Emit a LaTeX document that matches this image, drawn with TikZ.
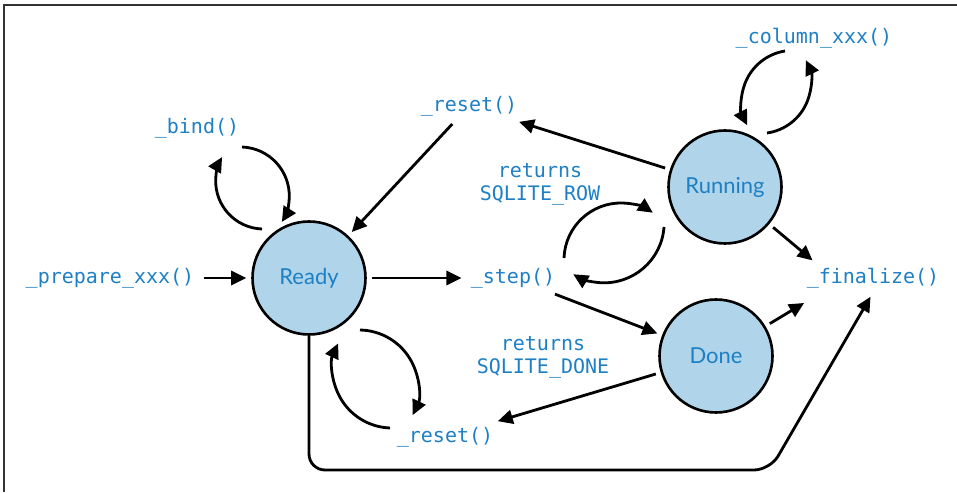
\documentclass[tikz,border=0pt]{standalone}
\usepackage{fontspec}
\setmainfont{Lato}
\setmonofont{DejaVu Sans Mono}
\usetikzlibrary{shapes, arrows.meta, positioning, calc}
\definecolor{codeblue}{RGB}{30,128,196}
\definecolor{statefill}{RGB}{176,212,234}

\begin{document}
\begin{tikzpicture}[x=0.5pt,y=0.5pt,
	phase/.style={circle,draw,line width=1.3pt,fill=statefill,text=codeblue,
		minimum size=56.5pt,inner sep=0pt,font=\fontsize{11}{13}\selectfont},
	call/.style={text=codeblue,font=\ttfamily\fontsize{10}{11.5}\selectfont,
		inner sep=2pt,align=center},
	trans/.style={-{Triangle[length=7.5pt,width=7pt]},line width=1.4pt,
		shorten >=2.5pt,shorten <=2.5pt},
	cyc/.style={-{Triangle[length=7.5pt,width=7pt]},line width=1.4pt}]
	\useasboundingbox (0,0) rectangle (957,492);
	\draw[line width=1pt,black!80] (4,0) -- (4,487) -- (957,487);

	% states
	\node[phase] (ready) at (309,214) {Ready};
	\node[phase] (running) at (725,305) {Running};
	\node[phase] (done) at (716,136) {Done};

	% calls
	\node[call] (prep) at (110,214) {\_prepare\_xxx()};
	\node[call] (step) at (513,214) {\_step()};
	\node[call] (fin) at (873,214) {\_finalize()};
	\node[call] (bind) at (197,364) {\_bind()};
	\node[call] (rsttop) at (469,386) {\_reset()};
	\node[call] (col) at (814,454) {\_column\_xxx()};
	\node[call] (rowret) at (540,308) {returns\\SQLITE\_ROW};
	\node[call] (doneret) at (543,135) {returns\\SQLITE\_DONE};
	\node[call] (rstbot) at (445,55) {\_reset()};

	% transitions
	\draw[trans] (prep) -- (ready);
	\draw[trans] (ready) -- (step);
	\draw[trans] (rsttop) -- (ready);
	\draw[trans] (running) -- (rsttop);
	\draw[trans] (running) -- ([xshift=7pt]fin.north west);
	\draw[trans] (done) -- ([xshift=3pt,yshift=-4pt]fin.south west);
	\draw[trans] (step) -- (done);
	\draw[trans] (done) -- (rstbot);
	\coordinate (corner) at (770,22);
	\draw[trans,shorten <=0pt,rounded corners=8pt] (ready) |- (corner) -- (fin.south);

	% loops
	\coordinate (bindin) at (242,345);
	\coordinate (bindout) at (262,263);
	\coordinate (colin) at (785,441);
	\coordinate (colout) at (767,359);
	\coordinate (stepin) at (564,234);
	\coordinate (stepout) at (664,265);
	\coordinate (rstin) at (360,162);
	\coordinate (rstout) at (390,64);
	\draw[cyc] (bindin) arc[start angle=88,end angle=-32,radius=24.5pt];
	\draw[cyc] (bindout) arc[start angle=268,end angle=150,radius=24pt];
	\draw[cyc] (colin) arc[start angle=99,end angle=207,radius=25.75pt];
	\draw[cyc] (colout) arc[start angle=278,end angle=386,radius=25.5pt];
	\draw[cyc] (stepin) arc[start angle=178,end angle=56,radius=28.5pt];
	\draw[cyc] (stepout) arc[start angle=-4,end angle=-121,radius=30pt];
	\draw[cyc] (rstin) arc[start angle=89,end angle=-25.5,radius=29.75pt];
	\draw[cyc] (rstout) arc[start angle=268,end angle=155,radius=29.75pt];
\end{tikzpicture}
\end{document}
